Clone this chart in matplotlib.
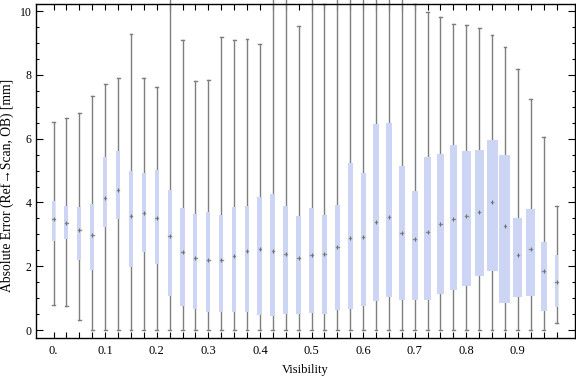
import numpy as np
import matplotlib
matplotlib.use("Agg")
from matplotlib import pyplot as plt
from matplotlib.patches import Rectangle

# box-whisker stats per visibility bin
visibility = [0.0, 0.025, 0.05, 0.075, 0.1, 0.125, 0.15, 0.175, 0.2, 0.225,
              0.25, 0.275, 0.3, 0.325, 0.35, 0.375, 0.4, 0.425, 0.45, 0.475,
              0.5, 0.525, 0.55, 0.575, 0.6, 0.625, 0.65, 0.675, 0.7, 0.725,
              0.75, 0.775, 0.8, 0.825, 0.85, 0.875, 0.9, 0.925, 0.95, 0.975]
w_lo = [0.80, 0.74, 0.33, 0, 0, 0, 0, 0, 0, 0,
        0, 0, 0, 0, 0, 0, 0, 0, 0, 0,
        0, 0, 0, 0, 0, 0, 0, 0, 0, 0,
        0, 0, 0, 0, 0, 0, 0, 0, 0, 0.22]
q1 = [2.80, 2.86, 2.20, 1.89, 3.24, 3.48, 1.99, 2.46, 2.08, 1.08,
      0.76, 0.67, 0.57, 0.57, 0.57, 0.57, 0.48, 0.45, 0.49, 0.51,
      0.54, 0.51, 0.64, 0.67, 0.76, 0.92, 1.04, 0.95, 0.95, 0.95,
      1.14, 1.26, 1.39, 1.68, 1.86, 0.86, 1.04, 1.08, 0.61, 0.73]
med = [3.48, 3.36, 3.15, 2.99, 4.13, 4.38, 3.59, 3.66, 3.50, 2.95,
       2.46, 2.27, 2.19, 2.19, 2.33, 2.47, 2.55, 2.48, 2.40, 2.25,
       2.35, 2.40, 2.60, 2.89, 2.93, 3.39, 3.54, 3.04, 2.86, 3.09,
       3.31, 3.49, 3.58, 3.70, 4.01, 3.26, 2.36, 2.53, 1.86, 1.50]
q3 = [4.04, 3.89, 3.86, 3.94, 5.42, 5.61, 4.98, 4.92, 5.02, 4.39,
      3.82, 3.65, 3.70, 3.60, 3.86, 3.89, 4.16, 4.26, 3.88, 3.57,
      3.82, 3.60, 3.92, 5.24, 4.92, 6.45, 6.49, 5.14, 4.36, 5.42,
      5.52, 5.80, 5.61, 5.64, 5.96, 5.49, 3.51, 3.79, 2.76, 2.34]
w_hi = [6.51, 6.64, 6.82, 7.33, 7.73, 7.89, 9.28, 7.89, 7.61, 10.6,
        9.08, 7.81, 7.83, 9.18, 9.08, 9.14, 8.96, 10.6, 10.6, 9.53,
        10.6, 10.24, 10.6, 10.6, 10.6, 10.6, 10.6, 10.6, 10.24, 9.96,
        9.83, 9.61, 9.58, 9.46, 9.24, 8.89, 8.20, 7.26, 6.05, 3.88]
# box widths (visibility units), they vary from bin to bin
box_w = [0.0058, 0.0078, 0.0078, 0.0078, 0.0072, 0.0078, 0.0064, 0.0072, 0.0083, 0.0083,
         0.0083, 0.0078, 0.0083, 0.0083, 0.0083, 0.0083, 0.0097, 0.0097, 0.0091, 0.0091,
         0.0097, 0.0097, 0.0103, 0.0103, 0.0097, 0.0122, 0.0110, 0.0116, 0.0122, 0.0122,
         0.0122, 0.0141, 0.0174, 0.0174, 0.0213, 0.0213, 0.0174, 0.0174, 0.0116, 0.0072]
xtick_labels = ["0.", "0.1", "0.2", "0.3", "0.4", "0.5", "0.6", "0.7", "0.8", "0.9"]

plt.rcParams['font.family'] = ['Liberation Serif', 'DejaVu Serif']

fig = plt.figure(figsize=(5.76, 3.77), dpi=100)
ax = fig.add_axes([0.0625, 0.1034, 0.9355, 0.8856])

box_col = '#cdd5f5'
wh_col = '#7f7f7f'
cap = 0.0028

for i, x in enumerate(visibility):
    # whisker line + end caps
    ax.plot([x, x], [w_lo[i], w_hi[i]], color=wh_col, lw=1.0, clip_on=False, zorder=2)
    for yv in (w_lo[i], w_hi[i]):
        ax.plot([x - cap, x + cap], [yv, yv], color=wh_col, lw=1.0, clip_on=False, zorder=2)
    w = box_w[i]
    ax.add_patch(Rectangle((x - w / 2, q1[i]), w, q3[i] - q1[i], facecolor=box_col,
                           edgecolor='none', zorder=3))
    ax.plot([x - 0.0025, x + 0.0025], [med[i], med[i]], color='#8a8a8a', lw=1.0, zorder=4)
    ax.plot([x], [med[i]], marker='|', ms=3, mew=0.8, color='#707070', zorder=5)

ax.set_xlim(-0.0341, 1.0105)
ax.set_ylim(-0.25, 10.22)

ax.set_xticks(visibility)
ax.set_xticklabels([xtick_labels[i // 4] if i % 4 == 0 else '' for i in range(len(visibility))])
ax.set_yticks(np.arange(0, 11, 2))
ax.set_yticks(np.arange(0, 10.5, 0.5), minor=True)
ax.tick_params(axis='x', which='major', direction='in', top=True,
               length=4, width=0.8, labelsize=9, pad=5)
ax.tick_params(axis='y', which='major', direction='in', right=True,
               length=5, width=0.8, labelsize=8.5, pad=3)
ax.tick_params(axis='y', which='minor', direction='in', right=True, length=2.5, width=0.8)
for s in ax.spines.values():
    s.set_linewidth(1.0)

ax.set_xlabel('Visibility', fontsize=9, labelpad=5)
ax.set_ylabel('Absolute Error (Ref\u2192Scan, OB) [mm]', fontsize=9.8)
ax.yaxis.set_label_coords(-0.041, 0.458)

fig.savefig('out.png', dpi=100)
